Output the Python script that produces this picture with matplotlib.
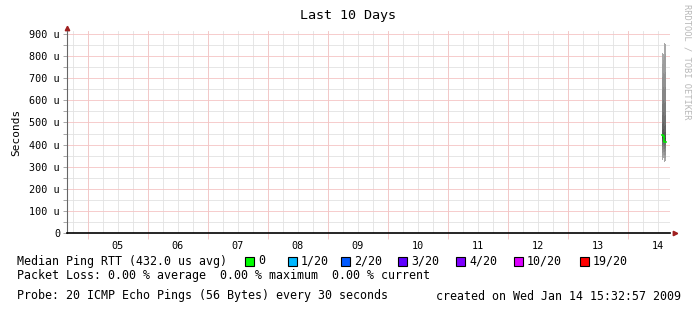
import numpy as np
import matplotlib
matplotlib.use("Agg")
import matplotlib.pyplot as plt

# ---- data (values in microseconds) ----
day_labels = ["05", "06", "07", "08", "09", "10", "11", "12", "13", "14"]
day_starts = [5, 6, 7, 8, 9, 10, 11, 12, 13, 14]

# time of each RRD step (day of month, fractional), 24 min per step
step_times = [14.567, 14.584, 14.600, 14.617]
# 20 sorted ping RTTs per step
pings = [
    [330, 345, 360, 375, 390, 400, 410, 418, 425, 430, 440, 450, 465, 495, 535, 585, 645, 705, 765, 815],
    [340, 355, 368, 380, 392, 402, 412, 420, 428, 434, 442, 452, 472, 502, 548, 602, 662, 722, 782, 810],
    [320, 338, 352, 368, 382, 395, 405, 412, 418, 422, 428, 440, 455, 485, 530, 590, 650, 720, 800, 860],
    [325, 340, 355, 370, 385, 398, 406, 412, 418, 424, 430, 442, 458, 488, 535, 595, 660, 730, 810, 855],
]
medians = [445, 440, 412, 410]

loss_labels = ["0", "1/20", "2/20", "3/20", "4/20", "10/20", "19/20"]
loss_colors = ["#00ff00", "#00b8ff", "#0059ff", "#5e00ff", "#7e00ff", "#dd00ff", "#ff0000"]
loss_x = [249, 292, 345, 402, 460, 518, 584]

W, H = 697, 313
fig = plt.figure(figsize=(W / 100, H / 100), dpi=100)
mono = "DejaVu Sans Mono"

x0, x1 = 67, 670
ytop, ybot = 31, 233
ax = fig.add_axes([x0 / W, 1 - ybot / H, (x1 - x0) / W, (ybot - ytop) / H])
ax.set_xlim(4.65, 14.7)
ax.set_ylim(0, (ybot - ytop) / 22.1 * 100)

# grid
for t in np.arange(4.75, 14.7, 0.25):
    ax.axvline(t, color="#e2e2e2", lw=0.6, zorder=0)
for v in np.arange(50, 950, 100):
    ax.axhline(v, color="#e2e2e2", lw=0.6, zorder=0)
for t in day_starts:
    ax.axvline(t, color="#f5c4c4", lw=0.6, zorder=1)
for v in range(100, 1000, 100):
    ax.axhline(v, color="#f5c4c4", lw=0.6, zorder=1)

# smoke
dt = 1 / 60
for t, p in zip(step_times, pings):
    p = sorted(p)
    for i in range(10):
        g = 0.66 - 0.045 * i
        ax.bar(t, p[19 - i] - p[i], bottom=p[i], width=dt, align="edge",
               color=(g, g, g), lw=0, zorder=3)

ax.step(np.array(step_times + [step_times[-1] + dt]), medians + [medians[-1]],
        where="post", color="#00ee00", lw=1.2, zorder=4)

# axes styling
for s in ["top", "right"]:
    ax.spines[s].set_visible(False)
ax.spines["left"].set_color("#666666")
ax.spines["bottom"].set_color("black")
ax.spines["bottom"].set_linewidth(1.2)

ax.set_yticks(range(0, 1000, 100))
ax.set_yticklabels(["0"] + ["%d u" % v for v in range(100, 1000, 100)],
                   fontfamily=mono, fontsize=7.3)
ax.set_yticks(np.arange(50, 950, 100), minor=True)
ax.tick_params(axis="y", which="both", length=3, color="#999999", width=0.6, pad=2)

ax.set_xticks(day_starts)
ax.set_xticklabels([""] * len(day_starts))
ax.tick_params(axis="x", which="major", length=4, color="#f5c4c4", width=0.6)
ax.set_xticks([d + 0.5 for d in day_starts], minor=True)
ax.set_xticklabels(day_labels, minor=True, fontfamily=mono, fontsize=7.3)
ax.tick_params(axis="x", which="minor", length=0, pad=6)

# arrows
ax.plot([x0 / W], [1 - 28 / H], marker="^", ms=3.2, color="#a02020",
        transform=fig.transFigure, clip_on=False)
ax.plot([675 / W], [1 - ybot / H], marker=">", ms=3.2, color="#a02020",
        transform=fig.transFigure, clip_on=False)

def ftext(x, y, s, **kw):
    kw.setdefault("fontfamily", mono)
    kw.setdefault("fontsize", 8.4)
    kw.setdefault("va", "center")
    fig.text(x / W, 1 - y / H, s, **kw)

ftext(348, 16, "Last 10 Days", ha="center", fontsize=9.6)
ftext(16, 132, "Seconds", ha="center", rotation=90, fontsize=8.0)
ftext(687, 62, "RRDTOOL / TOBI OETIKER", ha="center", rotation=-90,
      fontsize=6.3, color="#b8b8b8")

ftext(17, 261, "Median Ping RTT (432.0 us avg)")
for lx, lab, col in zip(loss_x, loss_labels, loss_colors):
    fig.patches.append(plt.Rectangle(((lx - 4) / W, 1 - 265.5 / H), 9 / W, 9 / H,
                                     transform=fig.transFigure, facecolor=col,
                                     edgecolor="black", lw=0.8))
    ftext(lx + 9, 261, lab)
ftext(17, 276, "Packet Loss: 0.00 % average  0.00 % maximum  0.00 % current")
ftext(17, 296, "Probe: 20 ICMP Echo Pings (56 Bytes) every 30 seconds")
ftext(681, 296, "created on Wed Jan 14 15:32:57 2009", ha="right")

fig.savefig("out.png", dpi=100)
